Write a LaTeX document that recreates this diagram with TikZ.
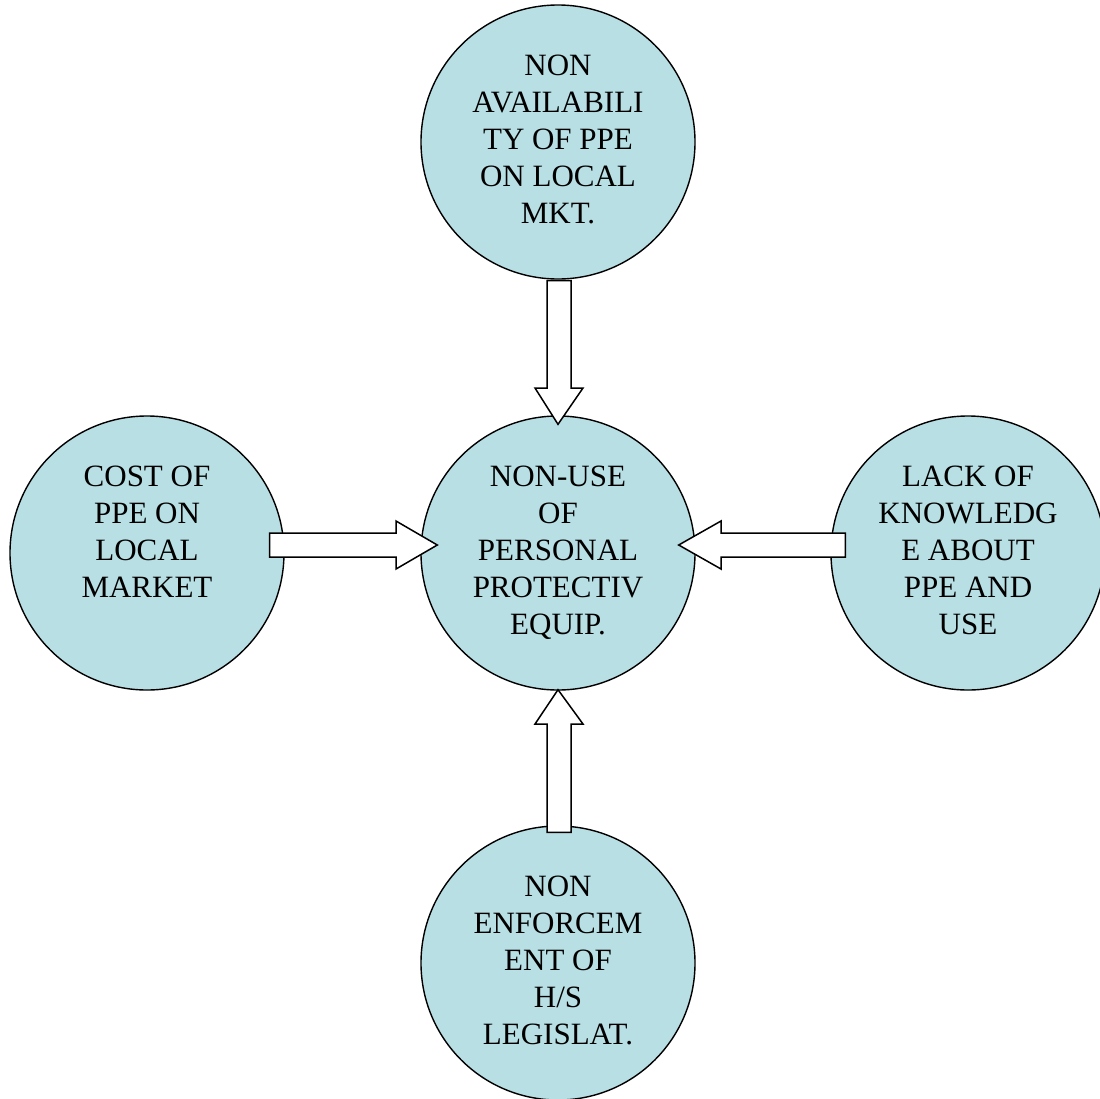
\documentclass[tikz,border=0pt]{standalone}
\usepackage{fontspec}
\setmainfont{Liberation Serif}
\usetikzlibrary{calc}
\definecolor{circfill}{RGB}{184,223,228}
\begin{document}
\begin{tikzpicture}[x=1pt,y=-1pt,
  bubble/.style={circle,draw=black,line width=1.4pt,fill=circfill,minimum size=274pt,inner sep=0pt},
  bubbletext/.style={anchor=north,inner sep=0pt,align=center,font=\fontsize{31}{37}\selectfont},
  blockarrow/.style={draw=black,fill=white,line width=1.5pt,line join=miter}]
\useasboundingbox (0,0) rectangle (1100,1098);
\node[bubble] (top) at (558,142) {};
\node[bubble] (mid) at (558,553) {};
\node[bubble] (left) at (147,553) {};
\node[bubble] (right) at (968,553) {};
\node[bubble] (bot) at (558,963) {};
\node[bubbletext] (ttop) at ($(top.center)+(0,-87)$) {NON\\AVAILABILI\\TY OF PPE\\ON LOCAL\\MKT.};
\node[bubbletext] (tmid) at ($(mid.center)+(0,-87)$) {NON-USE\\OF\\PERSONAL\\PROTECTIV\\EQUIP.};
\node[bubbletext] (tleft) at ($(left.center)+(0,-87)$) {COST OF\\PPE ON\\LOCAL\\MARKET};
\node[bubbletext] (tright) at ($(right.center)+(0,-87)$) {LACK OF\\KNOWLEDG\\E ABOUT\\PPE AND\\USE};
\node[bubbletext] (tbot) at ($(bot.center)+(0,-87)$) {NON\\ENFORCEM\\ENT OF\\H/S\\LEGISLAT.};
% top arrow (down)
\draw[blockarrow] ($(top.south)+(-11,1)$) -- ($(top.south)+(13,1)$) -- (571,388) -- (583,388) -- ($(mid.north)+(0,9)$) -- (535,388) -- (547,388) -- cycle;
% bottom arrow (up)
\draw[blockarrow] ($(bot.north)+(-11,7)$) -- ($(bot.north)+(13,7)$) -- (571,724) -- (583,724) -- ($(mid.south)+(0,-1)$) -- (535,724) -- (547,724) -- cycle;
% left arrow (right)
\draw[blockarrow] ($(left.east)+(-15,-20)$) -- (396,533) -- (396,521) -- ($(mid.west)+(17,-8)$) -- (396,569) -- (396,557) -- ($(left.east)+(-15,4)$) -- cycle;
% right arrow (left)
\draw[blockarrow] ($(right.west)+(15,-20)$) -- (721,533) -- (721,521) -- ($(mid.east)+(-17,-8)$) -- (721,569) -- (721,557) -- ($(right.west)+(15,4)$) -- cycle;
\end{tikzpicture}
\end{document}
